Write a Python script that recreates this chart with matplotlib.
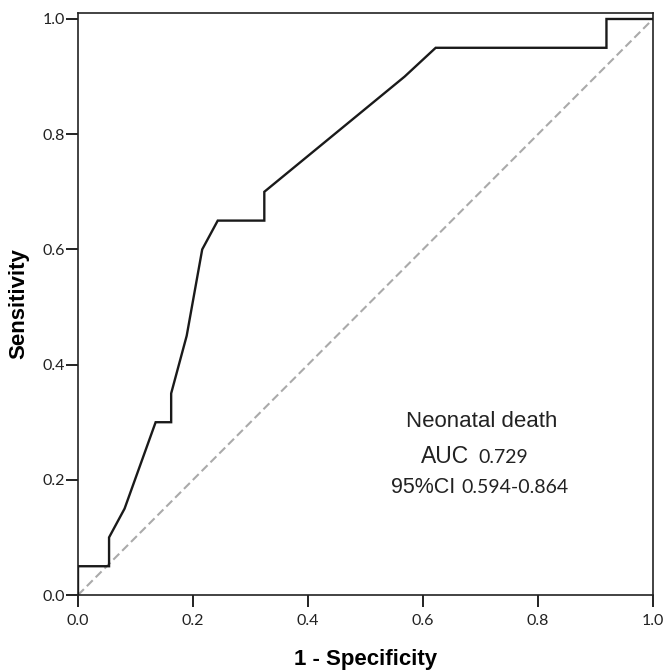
import matplotlib
matplotlib.use('Agg')
import matplotlib.pyplot as plt

# ROC curve points (1 - specificity, sensitivity)
fpr = [0.0, 0.0, 0.054, 0.054, 0.081, 0.135, 0.162, 0.162, 0.189, 0.216,
       0.243, 0.324, 0.324, 0.568, 0.622, 0.919, 0.919, 1.0]
tpr = [0.0, 0.05, 0.05, 0.10, 0.15, 0.30, 0.30, 0.35, 0.45, 0.60,
       0.65, 0.65, 0.70, 0.90, 0.95, 0.95, 1.0, 1.0]
ticks = [0.0, 0.2, 0.4, 0.6, 0.8, 1.0]
tick_labels = ['0.0', '0.2', '0.4', '0.6', '0.8', '1.0']
outcome = 'Neonatal death'
auc_text = '0.729'
ci_text = '0.594-0.864'

fig = plt.figure(figsize=(6.65, 6.70), dpi=100)
ax = fig.add_axes([0.1173, 0.1119, 0.8647, 0.8687])

ax.plot([0, 1], [0, 1], color='#aaaaaa', lw=1.5, ls=(0, (4, 2)), zorder=2)
ax.plot(fpr, tpr, color='#1a1a1a', lw=1.7, zorder=3, solid_joinstyle='miter')

ax.set_xlim(0, 1.0)
ax.set_ylim(0, 1.0104)
ax.set_xticks(ticks)
ax.set_yticks(ticks)
ax.set_xticklabels(tick_labels, fontfamily='Lato', fontsize=11.5)
ax.set_yticklabels(tick_labels, fontfamily='Lato', fontsize=11.5)
ax.tick_params(axis='x', direction='out', length=8.5, width=1.4, pad=5, colors='#222222')
ax.tick_params(axis='y', direction='out', length=8.5, width=1.4, pad=1, colors='#222222')
for sp in ax.spines.values():
    sp.set_linewidth(1.2)
    sp.set_color('#222222')

ax.set_xlabel('1 - Specificity', fontfamily='Liberation Sans', fontweight='bold',
              fontsize=16, labelpad=15)
ax.set_ylabel('Sensitivity', fontfamily='Liberation Sans', fontweight='bold',
              fontsize=16, labelpad=9)

ax.text(0.702, 0.292, outcome, fontfamily='Liberation Sans', fontsize=16,
        ha='center', va='baseline', color='#222222')
ax.text(0.680, 0.229, 'AUC', fontfamily='Liberation Sans', fontsize=16.5,
        ha='right', va='baseline', color='#222222')
ax.text(0.697, 0.229, auc_text, fontfamily='Lato', fontsize=14,
        ha='left', va='baseline', color='#222222')
ax.text(0.656, 0.177, '95%CI', fontfamily='Liberation Sans', fontsize=15.5,
        ha='right', va='baseline', color='#222222')
ax.text(0.666, 0.177, ci_text, fontfamily='Lato', fontsize=14,
        ha='left', va='baseline', color='#222222')

fig.savefig('out.png', dpi=100)
